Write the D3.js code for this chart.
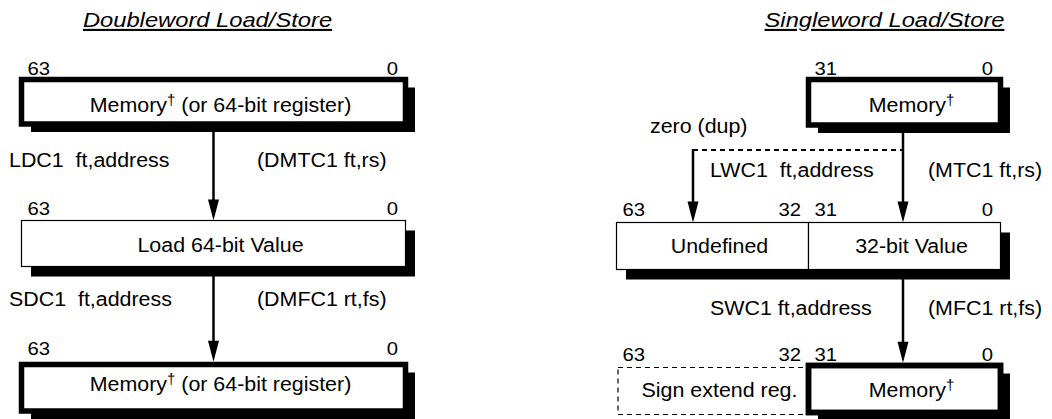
<!DOCTYPE html>
<html><head><meta charset="utf-8">
<script src="https://cdn.jsdelivr.net/npm/d3@7"></script>
<style>body{margin:0;background:#fff}svg{display:block}</style>
</head><body><svg id="c" width="1052" height="419"></svg>
<script>
// ---------- data ----------
const titles      = ["Doubleword Load/Store", "Singleword Load/Store"];
// register fields
const fieldPanel  = [0, 0, 0, 1, 1, 1, 1, 1];
const fieldRow    = [0, 1, 2, 0, 1, 1, 2, 2];
const fieldHi     = [63, 63, 63, 31, 63, 31, 63, 31];
const fieldLo     = [0, 0, 0, 0, 32, 0, 32, 0];
const fieldText   = ["Memory", "Load 64-bit Value", "Memory", "Memory", "Undefined", "32-bit Value", "Sign extend reg.", "Memory"];
const fieldDagger = [true, false, true, true, false, false, false, true];
const fieldSuffix = [" (or 64-bit register)", "", " (or 64-bit register)", "", "", "", "", ""];
const fieldStyle  = ["thick", "thin", "thick", "thick", "thin", "thin", "dashed", "thick"];
// transfer instructions (panel, step)
const instrPanel  = [0, 0, 1, 1];
const instrStep   = [0, 1, 0, 1];
const instrText   = ["LDC1  ft,address", "SDC1  ft,address", "LWC1  ft,address", "SWC1 ft,address"];
const moveText    = ["(DMTC1 ft,rs)", "(DMFC1 rt,fs)", "(MTC1 ft,rs)", "(MFC1 rt,fs)"];
const dupNote     = "zero (dup)";
// arrow bit positions (panel, bit)
const arrowPanel  = [0, 0, 1, 1];
const arrowStep   = [0, 1, 0, 1];
const arrowBit    = [32, 32, 16.25, 16.25];
const dupBit      = 51.25;

// ---------- layout ----------
const svg = d3.select("#c");
const FONT = "'Liberation Sans', Arial, Helvetica, sans-serif";
const SX = 1.07, FS = 20;
const xs = [
  d3.scaleLinear().domain([64, 0]).range([21.5, 405.5]),
  d3.scaleLinear().domain([64, 0]).range([616.5, 1000.5])
];
const rowY = [
  [[79.5, 124], [220.5, 266.5], [364.5, 411]],
  [[79.5, 125], [222.5, 269.5], [365.5, 412.5]]
];
const rowBase  = [[112, 252, 391], [112, 253, 397]];
const bitBase  = [[75, 215, 355], [75, 216, 361]];
const instrBase = [[167, 306], [177, 315]];
const instrX = [9, 710], moveX = [257, 928];
const titleX = [207.5, 884.5];
const TH = 5.5;

function text(x, y, str, anchor, size, sx) {
  return svg.append("text")
    .attr("transform", `translate(${x},${y}) scale(${sx || SX},1)`)
    .attr("text-anchor", anchor || "start")
    .attr("font-family", FONT)
    .attr("font-size", size || FS)
    .attr("fill", "#000")
    .style("white-space", "pre")
    .text(str);
}

// titles
titles.forEach((t, i) => {
  text(titleX[i], 27, t, "middle", 21, 1.13)
    .attr("font-style", "italic")
    .style("text-decoration", "underline");
});

const fields = fieldText.map((t, i) => {
  const x = xs[fieldPanel[i]];
  const [y0, y1] = rowY[fieldPanel[i]][fieldRow[i]];
  return {i, x0: x(fieldHi[i] + 1), x1: x(fieldLo[i]), y0, y1, style: fieldStyle[i], p: fieldPanel[i], r: fieldRow[i]};
});

// shadows
fields.filter(f => f.style !== "dashed").forEach(f => {
  const dx = 9.5, dy = f.style === "thick" ? 8 : 10;
  svg.append("rect").attr("x", f.x0 + dx).attr("y", f.y0 + dy)
    .attr("width", f.x1 - f.x0).attr("height", f.y1 - f.y0).attr("fill", "#000");
});
// boxes
fields.forEach(f => {
  const r = svg.append("rect").attr("fill", "#fff").attr("stroke", "#000");
  if (f.style === "dashed") {
    r.attr("x", f.x0 + 1.5).attr("y", f.y0 + 2).attr("width", f.x1 - f.x0 - 1.5).attr("height", f.y1 - f.y0)
     .attr("stroke-width", 1.2).attr("stroke-dasharray", "5,4");
  } else {
    r.attr("x", f.x0).attr("y", f.y0).attr("width", f.x1 - f.x0).attr("height", f.y1 - f.y0)
     .attr("stroke-width", f.style === "thick" ? TH : 1.2);
  }
});
// thick border redrawn on top so it covers the neighbouring dashed box
fields.filter(f => f.style === "thick" && f.p === 1 && f.r === 2).forEach(f => {
  svg.append("rect").attr("x", f.x0).attr("y", f.y0).attr("width", f.x1 - f.x0).attr("height", f.y1 - f.y0)
    .attr("fill", "none").attr("stroke", "#000").attr("stroke-width", TH);
});

// field texts
fields.forEach(f => {
  const i = f.i;
  const cx = (f.x0 + f.x1) / 2 + 7;
  const t = text(cx, rowBase[f.p][f.r], null, "middle");
  t.append("tspan").text(fieldText[i]);
  if (fieldDagger[i]) {
    t.append("tspan").attr("font-size", 14).attr("dy", -7).text("\u2020");
    t.append("tspan").attr("dy", 7).text(fieldSuffix[i]);
  }
});

// bit labels
fields.forEach(f => {
  const x = xs[f.p];
  text(x(fieldHi[f.i]), bitBase[f.p][f.r], String(fieldHi[f.i]), "start", 19);
  text(x(fieldLo[f.i]) - 7.5, bitBase[f.p][f.r], String(fieldLo[f.i]), "end", 19);
});

// instructions
instrText.forEach((t, i) => {
  const p = instrPanel[i], s = instrStep[i];
  text(instrX[p], instrBase[p][s], t);
  text(moveX[p], instrBase[p][s], moveText[i]);
});
text(650, 133, dupNote);

// arrows
function arrow(x, y0, tip) {
  svg.append("line").attr("x1", x).attr("x2", x).attr("y1", y0).attr("y2", tip - 16)
    .attr("stroke", "#000").attr("stroke-width", 2.5);
  svg.append("path").attr("d", `M${x - 5.5},${tip - 21}L${x + 5.5},${tip - 21}L${x},${tip}Z`).attr("fill", "#000");
}
arrowBit.forEach((b, i) => {
  const p = arrowPanel[i], s = arrowStep[i];
  const from = rowY[p][s][1] + (s === 0 ? TH / 2 : 0);
  const to = rowY[p][s + 1][0] - (s === 1 ? TH / 2 : 0);
  arrow(xs[p](b), from, to);
});
// zero (dup) branch
const dupY = 150;
svg.append("line").attr("x1", xs[1](dupBit)).attr("x2", xs[1](arrowBit[2])).attr("y1", dupY).attr("y2", dupY)
  .attr("stroke", "#000").attr("stroke-width", 2).attr("stroke-dasharray", "5,4");
arrow(xs[1](dupBit), dupY - 1, rowY[1][1][0]);
</script></body></html>
